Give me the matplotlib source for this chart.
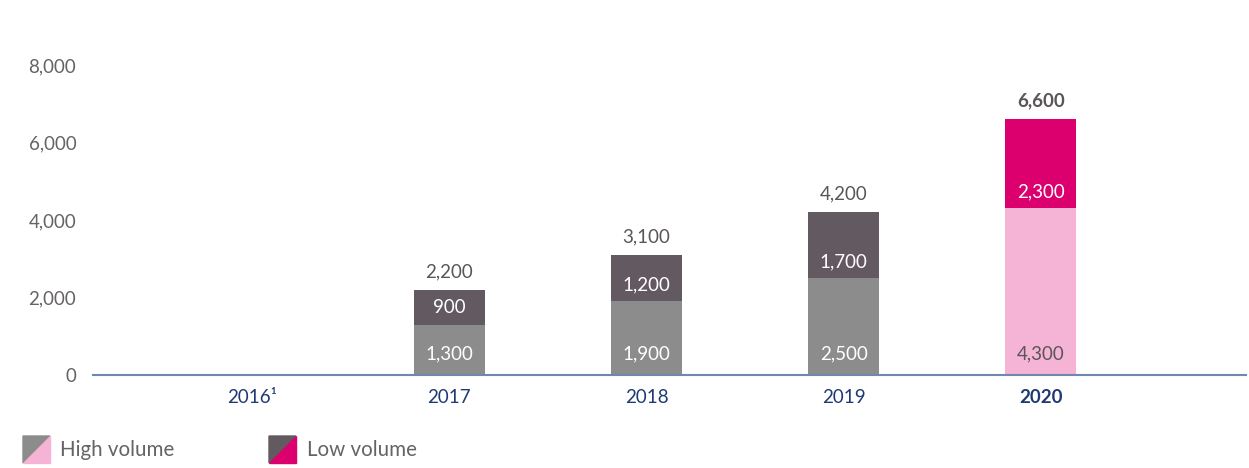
import matplotlib
matplotlib.use("Agg")
import matplotlib.pyplot as plt
from matplotlib.patches import Polygon

plt.rcParams['font.family'] = ['Lato', 'DejaVu Sans']

years = ["2016¹", "2017", "2018", "2019", "2020"]
high_volume = [15, 1300, 1900, 2500, 4300]
low_volume = [10, 900, 1200, 1700, 2300]
totals = [None, 2200, 3100, 4200, 6600]
high_labels = [None, "1,300", "1,900", "2,500", "4,300"]
low_labels = [None, "900", "1,200", "1,700", "2,300"]
total_labels = [None, "2,200", "3,100", "4,200", "6,600"]
y_ticks = [0, 2000, 4000, 6000, 8000]

high_colors = ["#8a7a70", "#8c8c8c", "#8c8c8c", "#8c8c8c", "#f5b3d5"]
low_colors = ["#8a6a60", "#625a60", "#625a60", "#625a60", "#dc006e"]
high_text = ["white", "white", "white", "white", "#5a5559"]
widths = [0.5, 0.36, 0.36, 0.36, 0.36]

W, H = 1249, 468
fig = plt.figure(figsize=(W / 100, H / 100), dpi=100)
ax = fig.add_axes([93 / W, 1 - 375 / H, (1246 - 93) / W, (375 - 65) / H])

x = list(range(len(years)))
ax.bar(x, high_volume, width=widths, color=high_colors, zorder=2)
ax.bar(x, low_volume, bottom=high_volume, width=widths, color=low_colors, zorder=2)

fs = 13.5
for i in x:
    if high_labels[i]:
        ax.annotate(high_labels[i], (i, 0), xytext=(0, 15), textcoords="offset points",
                    ha="center", va="center", fontsize=fs, color=high_text[i])
    if low_labels[i]:
        ax.annotate(low_labels[i], (i, high_volume[i]), xytext=(0, 12), textcoords="offset points",
                    ha="center", va="center", fontsize=fs, color="white")
    if total_labels[i]:
        bold = i == len(years) - 1
        ax.annotate(total_labels[i], (i, totals[i]), xytext=(0, 13), textcoords="offset points",
                    ha="center", va="center", fontsize=fs, color="#5a5559",
                    fontweight="bold" if bold else "normal")

ax.set_xlim(-0.806, 5.04)
ax.set_ylim(0, 8000)
ax.set_yticks(y_ticks)
ax.set_yticklabels([f"{v:,}" for v in y_ticks], fontsize=fs, color="#666266")
ax.set_xticks(x)
ax.set_xticklabels(years, fontsize=fs, color="#1f3a73")
ax.get_xticklabels()[-1].set_fontweight("bold")
ax.tick_params(axis="both", length=0)
ax.tick_params(axis="x", pad=10)
ax.tick_params(axis="y", pad=12)
for s in ["top", "right", "left"]:
    ax.spines[s].set_visible(False)
ax.spines["bottom"].set_color("#7088b0")
ax.spines["bottom"].set_linewidth(1.5)
ax.spines["bottom"].set_zorder(3)


def legend_square(x0, y0, size, c_top, c_bottom):
    # pixel coords (top-left origin) -> figure coords
    def f(px, py):
        return (px / W, 1 - py / H)
    fig.patches.append(Polygon([f(x0, y0), f(x0 + size, y0), f(x0, y0 + size)],
                               closed=True, color=c_top, transform=fig.transFigure))
    fig.patches.append(Polygon([f(x0 + size, y0), f(x0 + size, y0 + size), f(x0, y0 + size)],
                               closed=True, color=c_bottom, transform=fig.transFigure))


lfs = 14.8
legend_square(23, 436, 27, "#8c8c8c", "#f5b3d5")
fig.text(60 / W, 1 - 450 / H, "High volume", fontsize=lfs, color="#666266", va="center")
legend_square(269, 436, 27, "#625a60", "#dc006e")
fig.text(307 / W, 1 - 450 / H, "Low volume", fontsize=lfs, color="#666266", va="center")

fig.savefig("out.png", dpi=100)
